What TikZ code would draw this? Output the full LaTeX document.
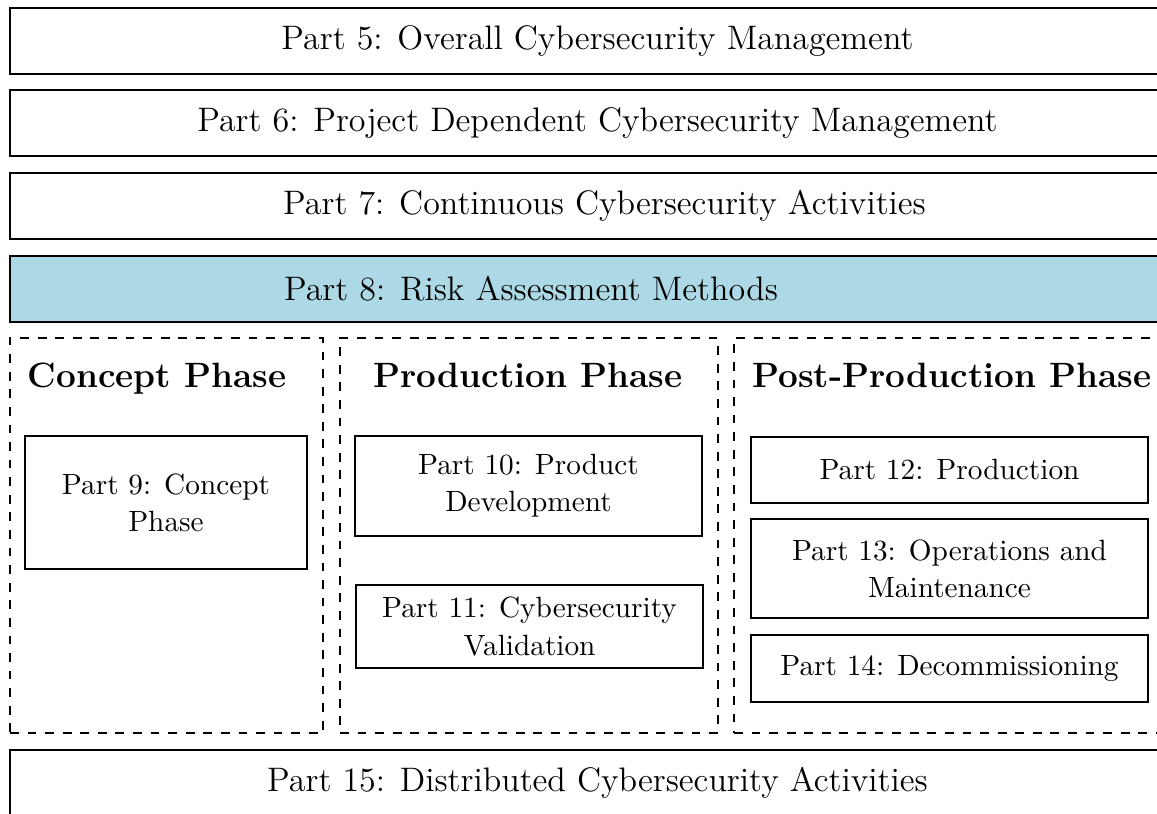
\documentclass[tikz,border=0pt]{standalone}
\usetikzlibrary{fit}
\definecolor{barblue}{HTML}{ADD8E6}
\begin{document}
\begin{tikzpicture}[x=0.3413pt,y=-0.3413pt,
  boxsize/.style 2 args={minimum width={#1*0.3413pt}, minimum height={#2*0.3413pt}},
  bar/.style={draw, thick, inner sep=0pt, boxsize={1175}{66}, font=\fontsize{11.6}{14}\selectfont},
  bartext/.style={inner sep=0pt, font=\fontsize{11.6}{14}\selectfont},
  phasebox/.style={draw, thick, dashed, inner sep=0pt},
  part/.style={draw, thick, inner sep=0pt, align=center, font=\fontsize{10}{12.7}\selectfont},
  head/.style={inner sep=0pt, anchor=base, font=\fontsize{12}{14}\selectfont\bfseries}]
\useasboundingbox (0,0) rectangle (1157,814);
% top bars
\node[bar] (p5) at (597.5,41) {Part 5: Overall Cybersecurity Management};
\node[bar] (p6) at (597.5,123) {Part 6: Project Dependent Cybersecurity Management};
\node[bar] (p7) at (597.5,206) {\hspace*{6\pgflinewidth}Part 7: Continuous Cybersecurity Activities};
\node[bar, fill=barblue] (p8) at (597.5,289) {};
\node[bartext] (p8t) at (531,289) {Part 8: Risk Assessment Methods};
% phases
\node[phasebox, fit={(10,338) (323,733)}] (concept) {};
\node[phasebox, fit={(340,338) (718,733)}] (production) {};
\node[phasebox, fit={(734,338) (1175,733)}] (post) {};
\node[head] (hc) at (157,388) {Concept Phase};
\node[head] (hp) at (528,388) {Production Phase};
\node[head] (hpp) at (952,388) {Post-Production Phase};
% parts
\node[part, boxsize={282}{133}] (p9) at (166,502.5) {Part 9: Concept\\Phase};
\node[part, boxsize={347}{100}] (p10) at (528.5,486) {Part 10: Product\\Development};
\node[part, boxsize={347}{83}] (p11) at (529.5,626.5) {Part 11: Cybersecurity\\Validation};
\node[part, boxsize={397}{66}] (p12) at (949.5,470) {Part 12: Production};
\node[part, boxsize={397}{99}] (p13) at (949.5,568.5) {Part 13: Operations and\\Maintenance};
\node[part, boxsize={397}{67}] (p14) at (949.5,668.5) {Part 14: Decommissioning};
% bottom bar
\node[bar] (p15) at (597.5,783) {Part 15: Distributed Cybersecurity Activities};
\end{tikzpicture}
\end{document}
